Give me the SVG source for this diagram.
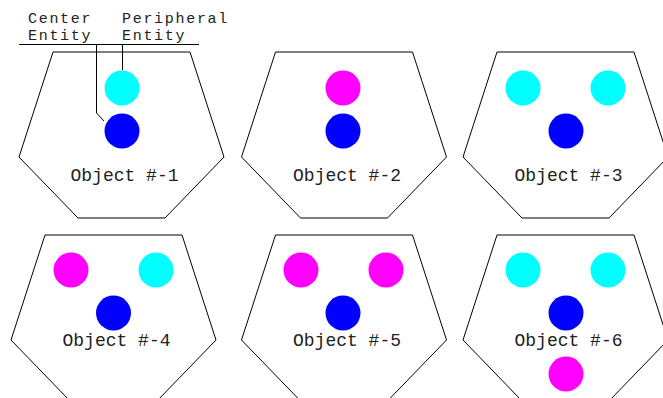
<svg xmlns="http://www.w3.org/2000/svg" width="663" height="398" viewBox="0 0 663 398">
<style>
.obj{fill:#fff;stroke:#000;stroke-width:1}
.t{font-family:"Liberation Mono","DejaVu Sans Mono",monospace;font-size:18px;fill:#222}
.lb{font-family:"Liberation Mono","DejaVu Sans Mono",monospace;font-size:15px;letter-spacing:1.7px;fill:#222}
.c{fill:#0000ff}.p{fill:#00ffff}.m{fill:#ff00ff}
.ln{fill:none;stroke:#000;stroke-width:1}
</style>
<defs>
<polygon id="hex" points="-68.5,0 68.5,0 102.5,105 43.5,166 -43.5,166 -102.5,105"/>
</defs>
<rect width="663" height="398" fill="#fff"/>
<g id="object1" transform="translate(121.5,52)">
<use href="#hex" class="obj"/>
<circle class="p" cx="0.5" cy="36" r="17.5"/>
<circle class="c" cx="0.5" cy="79" r="17.5"/>
<text class="t" x="-51" y="129">Object #-1</text>
</g>
<g id="object2" transform="translate(344,52)">
<use href="#hex" class="obj"/>
<circle class="m" cx="-1" cy="36" r="17.5"/>
<circle class="c" cx="-1" cy="79" r="17.5"/>
<text class="t" x="-51" y="129">Object #-2</text>
</g>
<g id="object3" transform="translate(565.5,52)">
<use href="#hex" class="obj"/>
<circle class="p" cx="-42.5" cy="36" r="17.5"/>
<circle class="p" cx="42.5" cy="36" r="17.5"/>
<circle class="c" cx="0.5" cy="79" r="17.5"/>
<text class="t" x="-51" y="129">Object #-3</text>
</g>
<g id="object4" transform="translate(113.5,235)">
<use href="#hex" class="obj"/>
<circle class="m" cx="-42.5" cy="35" r="17.5"/>
<circle class="p" cx="42.5" cy="35" r="17.5"/>
<circle class="c" cx="0" cy="78" r="17.5"/>
<text class="t" x="-51" y="111">Object #-4</text>
</g>
<g id="object5" transform="translate(344,235)">
<use href="#hex" class="obj"/>
<circle class="m" cx="-43" cy="35" r="17.5"/>
<circle class="m" cx="42" cy="35" r="17.5"/>
<circle class="c" cx="-1" cy="78" r="17.5"/>
<text class="t" x="-51" y="111">Object #-5</text>
</g>
<g id="object6" transform="translate(565.5,235)">
<use href="#hex" class="obj"/>
<circle class="p" cx="-42.5" cy="35" r="17.5"/>
<circle class="p" cx="42.5" cy="35" r="17.5"/>
<circle class="c" cx="0.5" cy="78" r="17.5"/>
<circle class="m" cx="0.5" cy="139" r="17.5"/>
<text class="t" x="-51" y="111">Object #-6</text>
</g>
<g id="label-center">
<text class="lb" x="28" y="22.5">Center</text>
<text class="lb" x="28" y="40">Entity</text>
</g>
<g id="label-peripheral">
<text class="lb" x="122" y="22.5">Peripheral</text>
<text class="lb" x="122" y="40">Entity</text>
</g>
<g id="connectors">
<line class="ln" x1="19" y1="44.5" x2="199" y2="44.5"/>
<polyline class="ln" points="96.5,44.5 96.5,113 104,121"/>
<polyline class="ln" points="122.5,44.5 122.5,70"/>
</g>
</svg>
